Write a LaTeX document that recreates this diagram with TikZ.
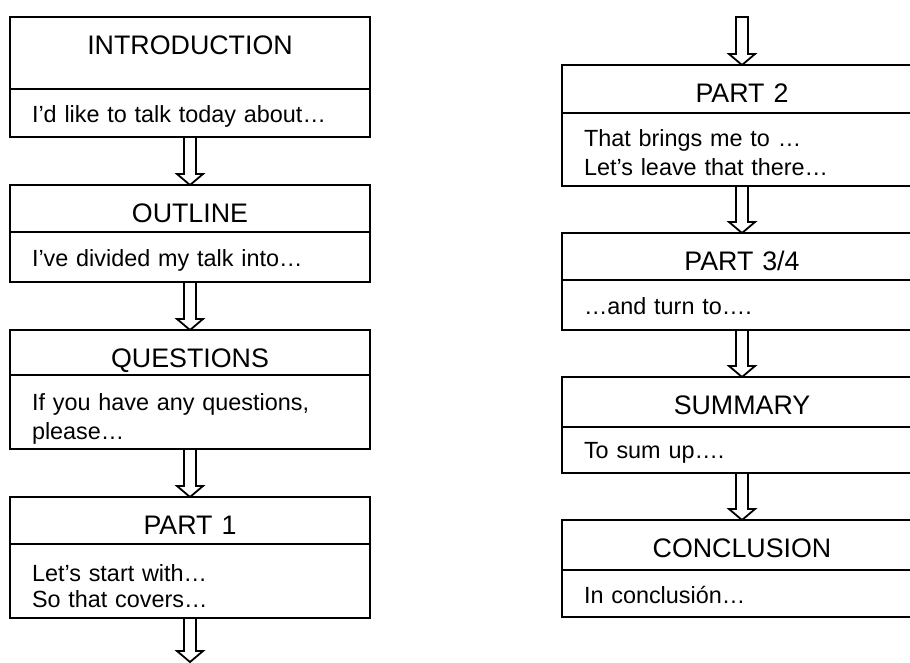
\documentclass[tikz,border=0pt]{standalone}
\usepackage{fontspec}
\setmainfont{Liberation Sans}
\usetikzlibrary{positioning,calc}

\newcommand\headfont{\fontsize{26.8}{30}\selectfont}
\newcommand\bodyfont{\fontsize{23.4}{29}\selectfont}

\begin{document}
\begin{tikzpicture}[x=1pt, y=-1pt]
    \tikzset{
      part/.style = {draw, line width=1.8pt, minimum width=360pt,
      text width=316pt, inner xsep=22pt, inner ysep=0pt, outer sep=0pt},
      head/.style = {part, align=center, font=\headfont,
      text height=37pt, text depth=#1},
      body/.style 2 args = {part, align=left, font=\bodyfont,
      text height=#1, text depth=#2},
      flow/.style = {draw, line width=1.8pt, line join=miter,
      to path={let \p1=(\tikztostart), \p2=(\tikztotarget) in
        (\x1-6pt,\y1) -- (\x1-6pt,\y2+11pt) -- (\x1-13pt,\y2+11pt)
        -- (\x2,\y2) -- (\x1+13pt,\y2+11pt) -- (\x1+6pt,\y2+11pt)
        -- (\x1+6pt,\y1) -- cycle}} % hollow block arrow
    }

    \useasboundingbox (0,0) rectangle (910,662);
    \clip (0,0) rectangle (910,662);

    \node[head=35pt, anchor=north west] (intro) at (10,17) {INTRODUCTION};
    \node[body={33pt}{15pt}, below = 0pt of intro] (introtxt)
      {I’d like to talk today about…};

    \node[head=10pt, below = 48pt of introtxt] (outline) {OUTLINE};
    \node[body={34pt}{16pt}, below = 0pt of outline] (outlinetxt)
      {I’ve divided my talk into…};

    \node[head=8pt, below = 48pt of outlinetxt] (questions) {QUESTIONS};
    \node[body={35pt}{39pt}, below = 0pt of questions] (questionstxt)
      {If you have any questions,\\ please…};

    \node[head=10pt, below = 48pt of questionstxt] (part1) {PART 1};
    \node[body={37pt}{37pt}, below = 0pt of part1] (part1txt)
      {Let’s start with…\\[-3pt] So that covers…};

    \coordinate (finish) at (190,662);
    \draw[flow]
      (introtxt.south) to (outline.north)
      (outlinetxt.south) to (questions.north)
      (questionstxt.south) to (part1.north)
      (part1txt.south) to (finish)
    ;

    \node[head=11pt, anchor=north west] (part2) at (562,65) {PART 2};
    \node[body={33pt}{40pt}, below = 0pt of part2] (part2txt)
      {That brings me to …\\ Let’s leave that there…};

    \node[head=10pt, below = 47pt of part2txt] (part3) {PART 3/4};
    \node[body={34pt}{16pt}, below = 0pt of part3] (part3txt)
      {…and turn to….};

    \node[head=13pt, below = 47pt of part3txt] (summary) {SUMMARY};
    \node[body={31pt}{15pt}, below = 0pt of summary] (summarytxt)
      {To sum up….};

    \node[head=13pt, below = 47pt of summarytxt] (conclusion) {CONCLUSION};
    \node[body={33pt}{14pt}, below = 0pt of conclusion] (conclusiontxt)
      {In conclusión…};

    \coordinate (start) at (742,17);
    \draw[flow]
      (start) to (part2.north)
      (part2txt.south) to (part3.north)
      (part3txt.south) to (summary.north)
      (summarytxt.south) to (conclusion.north)
    ;
\end{tikzpicture}
\end{document}
